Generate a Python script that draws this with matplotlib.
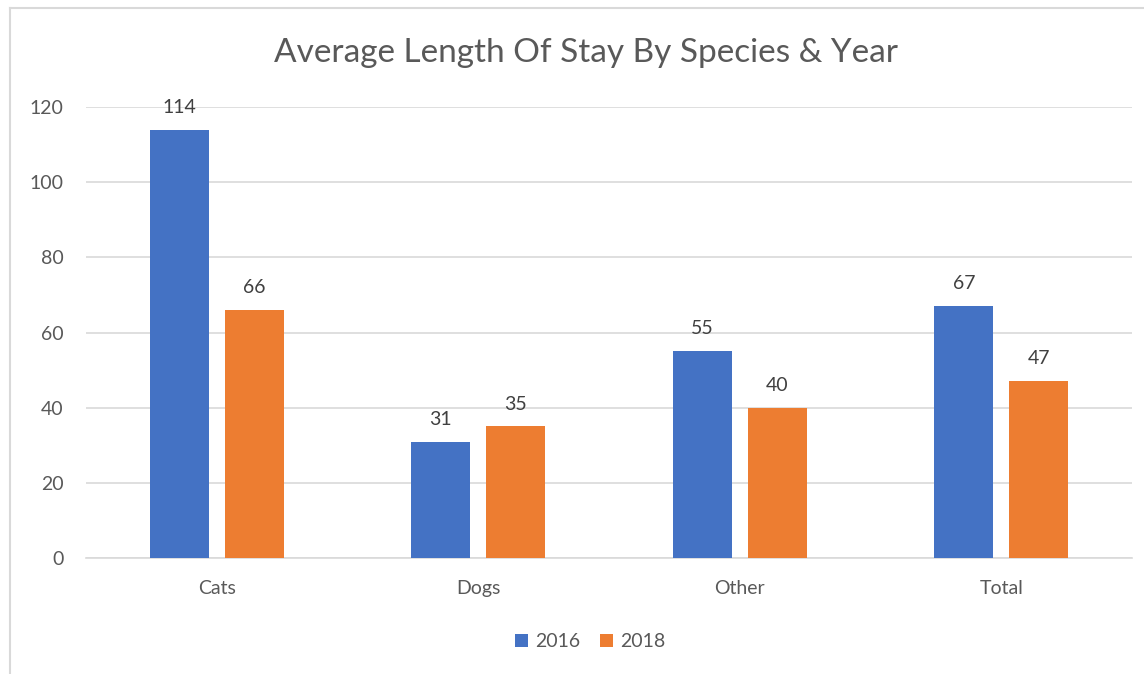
import matplotlib.pyplot as plt
import numpy as np
from matplotlib.lines import Line2D

plt.rcParams['font.family'] = ['Lato', 'DejaVu Sans']

# chart data
species = ['Cats', 'Dogs', 'Other', 'Total']
years = ['2016', '2018']
stay_2016 = [114, 31, 55, 67]
stay_2018 = [66, 35, 40, 47]

blue = '#4472C4'
orange = '#ED7D31'
grey_text = '#595959'
grid_col = '#D9D9D9'

fig = plt.figure(figsize=(11.44, 6.74), dpi=100)
ax = fig.add_axes([0.0752, 0.1721, 0.9143, 0.6691])

x = np.arange(len(species))
w = 0.2256
off = 0.143
b1 = ax.bar(x - off, stay_2016, w, color=blue, label=years[0], zorder=3)
b2 = ax.bar(x + off, stay_2018, w, color=orange, label=years[1], zorder=3)

for bars in (b1, b2):
    for r in bars:
        ax.annotate(f'{r.get_height():.0f}', (r.get_x() + r.get_width() / 2, r.get_height()),
                    xytext=(0, 10), textcoords='offset points', ha='center', va='bottom',
                    fontsize=14, color='#404040')

ax.set_xlim(-0.5, len(species) - 0.5)
ax.set_ylim(0, 120)
ax.set_yticks(np.arange(0, 121, 20))
ax.set_xticks(x)
ax.set_xticklabels(species)
ax.tick_params(axis='both', length=0, labelsize=14, labelcolor=grey_text)
ax.tick_params(axis='y', pad=16)
ax.tick_params(axis='x', pad=16)
ax.grid(axis='y', color=grid_col, linewidth=1.2, zorder=0)
for s in ['top', 'right', 'left']:
    ax.spines[s].set_visible(False)
ax.spines['bottom'].set_color(grid_col)
ax.spines['bottom'].set_linewidth(1.2)

fig.text(0.512, 0.921, 'Average Length Of Stay By Species & Year', ha='center', va='center',
         fontsize=24, color=grey_text)

fig.legend(handles=[b1, b2], labels=years, loc='center', bbox_to_anchor=(0.516, 0.048),
           ncol=2, frameon=False, fontsize=14, labelcolor=grey_text, handlelength=0.65, handleheight=0.65,
           handletextpad=0.4, columnspacing=1.0)

# chart border (left and top edges visible)
fig.add_artist(Line2D([0.0087, 0.0087], [0, 0.988], color=grid_col, linewidth=1.5, transform=fig.transFigure))
fig.add_artist(Line2D([0.0087, 1.0], [0.988, 0.988], color=grid_col, linewidth=1.5, transform=fig.transFigure))

fig.savefig('out.png', dpi=100)
